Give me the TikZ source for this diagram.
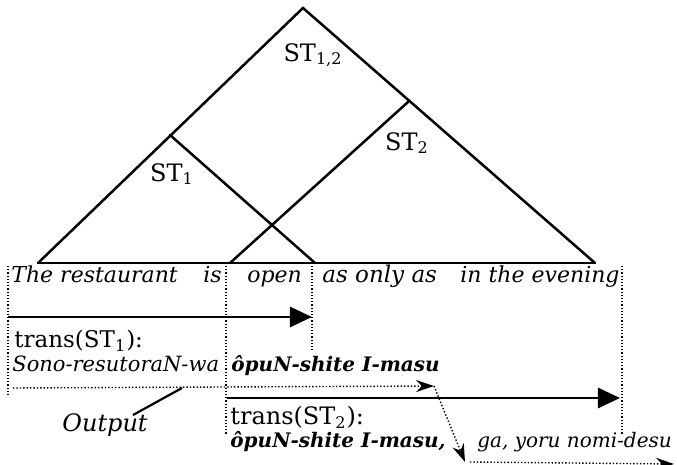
\documentclass[tikz,border=0pt]{standalone}
\usepackage{fontspec}
\setmainfont{DejaVu Serif}
\usetikzlibrary{arrows.meta, positioning}
\tikzset{
    tree/.style={line width=1.25pt, line cap=round},
    sep/.style={densely dotted, line width=0.6pt},
    flow/.style={line width=1.4pt, -{Triangle[length=11pt,width=10pt]}},
    outpath/.style={densely dotted, line width=0.7pt, -{Stealth[length=9pt,width=6pt]}},
    word/.style={anchor=base west, inner sep=0pt, font=\fontsize{11}{13}\selectfont\itshape},
    jp/.style={anchor=base west, inner sep=0pt, font=\fontsize{10}{12}\selectfont\bfseries\itshape},
    lab/.style={anchor=base west, inner sep=0pt, font=\fontsize{12}{14}\selectfont},
    st/.style={inner sep=0pt, font=\fontsize{12}{14}\selectfont},
}

\begin{document}
\begin{tikzpicture}[x=0.5pt,y=-0.5pt]
\useasboundingbox (0,0) rectangle (677,465);

% tree
\coordinate (top) at (303,8);
\coordinate (bl) at (38,263);
\coordinate (br) at (595,263);
\coordinate (st1top) at (170,135);
\coordinate (st1r) at (315,263);
\coordinate (st2top) at (408,102);
\coordinate (st2l) at (230,263);

\draw[tree] (bl) -- (top) -- (br);
\draw[tree] (bl) -- (br);
\draw[tree] (st1top) -- (st1r);
\draw[tree] (st2top) -- (st2l);

\node[st] (l12) at (313,55) {ST\textsubscript{1,2}};
\node[st] (l1) at (172,174) {ST\textsubscript{1}};
\node[st] (l2) at (407,143) {ST\textsubscript{2}};

% input words
\node[word] (w1) at (11,283) {The restaurant};
\node[word] (w2) at (203,283) {is};
\node[word] (w3) at (247,283) {open};
\node[word, font=\fontsize{11.5}{13}\selectfont\itshape] (w4) at (322,283) {as only as};
\node[word] (w5) at (460,283) {in the evening};

% dotted separators
\coordinate (s1a) at (8,266);
\coordinate (s1b) at (8,397);
\coordinate (s2a) at (226,266);
\coordinate (s2b) at (226,435);
\coordinate (s3a) at (312,266);
\coordinate (s3b) at (312,350);
\coordinate (s4a) at (622,266);
\coordinate (s4b) at (622,435);
\draw[sep] (s1a) -- (s1b);
\draw[sep] (s2a) -- (s2b);
\draw[sep] (s3a) -- (s3b);
\draw[sep] (s4a) -- (s4b);

% trans(ST1)
\coordinate (f1a) at (8,317);
\coordinate (f1b) at (312,317);
\draw[flow] (f1a) -- (f1b);
\node[lab, font=\fontsize{11.5}{13}\selectfont] (t1) at (14,348) {trans(ST\textsubscript{1}):};
\node[word, font=\fontsize{10.5}{12}\selectfont\itshape] (j1) at (12,372) {Sono-resutoraN-wa};
\node[jp] (j2) at (231,372) {ôpuN-shite I-masu};

% trans(ST2)
\coordinate (f2a) at (227,398);
\coordinate (f2b) at (620,398);
\draw[flow] (f2a) -- (f2b);
\node[lab] (t2) at (230,425) {trans(ST\textsubscript{2}):};
\node[jp] (j3) at (230,448) {ôpuN-shite I-masu,};
\node[jp, font=\fontsize{10}{12}\selectfont\itshape] (j4) at (477,448) {ga, yoru nomi-desu};

% output path
\coordinate (o1) at (13,388);
\coordinate (o2) at (434,386);
\coordinate (o3) at (465,462);
\coordinate (o4) at (470,462);
\coordinate (o5) at (674,464);
\draw[outpath] (o1) -- (o2);
\draw[outpath] (o2) -- (o3);
\draw[outpath] (o4) -- (o5);

\node[word, font=\fontsize{12}{14}\selectfont\itshape] (outp) at (62,432) {Output};
\coordinate (op) at (182,388);
\coordinate (oq) at (133,415);
\draw[line width=1.1pt] (oq) -- (op);
\end{tikzpicture}
\end{document}
